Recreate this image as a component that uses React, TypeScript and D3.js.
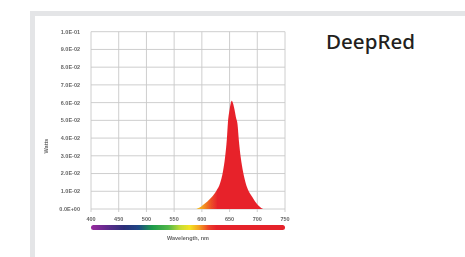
import { useEffect, useRef } from 'react'
import * as d3 from 'd3'

// spectrum
const wavelengths = [590, 596, 602, 610, 618, 626, 633, 638, 642, 645, 647, 650, 652, 654, 656, 659, 662, 664, 667, 670, 675, 679, 685, 691, 696, 701, 706, 711]
const watts = [0, 0.0008, 0.0023, 0.0043, 0.0068, 0.0102, 0.0147, 0.021, 0.0294, 0.039, 0.0486, 0.056, 0.0595, 0.061, 0.0598, 0.056, 0.051, 0.0486, 0.038, 0.0294, 0.02, 0.0147, 0.0098, 0.0068, 0.0042, 0.0023, 0.0009, 0]

const xTicks = [400, 450, 500, 550, 600, 650, 700, 750]
const yTicks = [0, 0.01, 0.02, 0.03, 0.04, 0.05, 0.06, 0.07, 0.08, 0.09, 0.1]

const spectrumStops: [number, string][] = [
  [400, '#9a2c9e'], [430, '#5e2c8c'], [460, '#2b2f78'], [485, '#1f4585'],
  [510, '#1c9a4c'], [540, '#52b848'], [562, '#c8dc34'], [578, '#f4e324'],
  [595, '#f3a121'], [612, '#ec4229'], [628, '#e5202b'], [750, '#e5202b'],
]
const fillStops: [number, string][] = [
  [590, '#f6c21f'], [602, '#f39a20'], [614, '#ee5a26'], [628, '#e7232c'], [711, '#e7202c'],
]

export default function App() {
  const svgRef = useRef<SVGSVGElement>(null)
  const width = 465
  const height = 257

  useEffect(() => {
    const svg = d3.select(svgRef.current)
    svg.selectAll('*').remove()

    const x = d3.scaleLinear().domain([400, 750]).range([91, 285])
    const y = d3.scaleLinear().domain([0, 0.1]).range([209, 31.7])

    // frame
    svg.append('rect').attr('x', 30).attr('y', 11).attr('width', width - 30).attr('height', 5).attr('fill', '#e4e5e7')
    svg.append('rect').attr('x', 30).attr('y', 11).attr('width', 5).attr('height', height - 11).attr('fill', '#e4e5e7')

    const defs = svg.append('defs')
    defs.append('filter').attr('id', 'soft')
      .append('feGaussianBlur').attr('stdDeviation', 0.45)

    const spec = defs.append('linearGradient').attr('id', 'spectrum')
      .attr('gradientUnits', 'userSpaceOnUse')
      .attr('x1', x(400)).attr('x2', x(750)).attr('y1', 0).attr('y2', 0)
    spec.selectAll('stop').data(spectrumStops).join('stop')
      .attr('offset', d => (d[0] - 400) / 350)
      .attr('stop-color', d => d[1])

    const fillGrad = defs.append('linearGradient').attr('id', 'peakfill')
      .attr('gradientUnits', 'userSpaceOnUse')
      .attr('x1', x(590)).attr('x2', x(711)).attr('y1', 0).attr('y2', 0)
    fillGrad.selectAll('stop').data(fillStops).join('stop')
      .attr('offset', d => (d[0] - 590) / 121)
      .attr('stop-color', d => d[1])

    const g = svg.append('g').attr('filter', 'url(#soft)')

    // grid
    g.append('g').selectAll('line').data(yTicks).join('line')
      .attr('x1', x(400)).attr('x2', x(750))
      .attr('y1', d => y(d)).attr('y2', d => y(d))
      .attr('stroke', '#c8c8c8').attr('stroke-width', 0.9)
    g.append('g').selectAll('line').data(xTicks).join('line')
      .attr('x1', d => x(d)).attr('x2', d => x(d))
      .attr('y1', y(0.1)).attr('y2', y(0) + 3)
      .attr('stroke', '#c8c8c8').attr('stroke-width', 0.9)

    // peak
    const pts = wavelengths.map((w, i) => [w, watts[i]] as [number, number])
    const area = d3.area<[number, number]>()
      .x(d => x(d[0]))
      .y0(y(0))
      .y1(d => y(d[1]))
      .curve(d3.curveMonotoneX)
    g.append('path').datum(pts).attr('d', area).attr('fill', 'url(#peakfill)')

    // tick labels
    g.append('g').selectAll('text').data(yTicks).join('text')
      .attr('x', 80).attr('y', d => y(d)).attr('dy', '0.35em')
      .attr('text-anchor', 'end')
      .style('font-family', 'Liberation Sans, Arial, sans-serif')
      .style('font-size', '5.5px').style('font-weight', 'bold').style('fill', '#666')
      .text(d => d === 0 ? '0.0E+00' : d3.format('.1e')(d).replace('e-', 'E-0').toUpperCase())
    g.append('g').selectAll('text').data(xTicks).join('text')
      .attr('x', d => x(d)).attr('y', 219).attr('dy', '0.35em')
      .attr('text-anchor', 'middle')
      .style('font-family', 'Liberation Sans, Arial, sans-serif')
      .style('font-size', '5.5px').style('font-weight', 'bold').style('fill', '#666')
      .text(d => d)

    // spectrum bar
    g.append('rect').attr('x', x(400)).attr('y', 225).attr('width', x(750) - x(400)).attr('height', 5)
      .attr('rx', 2.5).attr('fill', 'url(#spectrum)')

    // axis titles
    g.append('text').attr('x', 188).attr('y', 238).attr('dy', '0.35em')
      .attr('text-anchor', 'middle')
      .style('font-family', 'Liberation Sans, Arial, sans-serif')
      .style('font-size', '5.5px').style('font-weight', 'bold').style('fill', '#666')
      .text('Wavelength, nm')
    g.append('text').attr('transform', 'translate(46,146) rotate(-90)').attr('dy', '0.35em')
      .attr('text-anchor', 'middle')
      .style('font-family', 'Liberation Sans, Arial, sans-serif')
      .style('font-size', '5.5px').style('font-weight', 'bold').style('fill', '#666')
      .text('Watts')

    // title
    svg.append('text').attr('x', 326).attr('y', 49)
      .style('font-family', 'Noto Sans, Open Sans, sans-serif')
      .style('font-size', '19px').style('font-weight', 500).style('fill', '#231f20')
      .attr('textLength', 89).attr('lengthAdjust', 'spacingAndGlyphs')
      .text('DeepRed')
  }, [])

  return (
    <svg
      ref={svgRef}
      width={width}
      height={height}
      style={{ position: 'fixed', left: 0, top: 0, background: '#fff' }}
    />
  )
}
